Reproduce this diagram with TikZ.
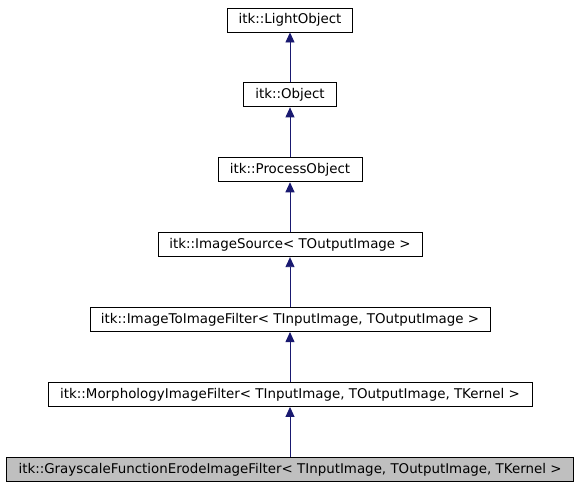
\documentclass[tikz,border=0pt]{standalone}
\usepackage{fontspec}
\setmainfont{DejaVu Sans}
\usetikzlibrary{arrows.meta, positioning}
\definecolor{edgeblue}{HTML}{191970}
\definecolor{leafgray}{HTML}{BFBFBF}

\begin{document}
\begin{tikzpicture}[x=1pt, y=-1pt, node distance=50pt,
  cls/.style={draw=black, line width=0.9pt, minimum height=24pt, inner sep=0pt,
    font=\fontsize{13.4}{15}\selectfont},
  inh/.style={draw=edgeblue, line width=0.9pt, -{Triangle[length=10pt, width=9pt]}}]
\useasboundingbox (0,0) rectangle (579,485);

\node[cls, minimum width=125pt] (lo) at (290,20) {itk::LightObject};
\node[cls, minimum width=93pt] (obj) [below=of lo] {itk::Object};
\node[cls, minimum width=144pt] (po) [below=of obj] {itk::ProcessObject};
\node[cls, minimum width=264pt] (is) [below=of po] {itk::ImageSource< TOutputImage >};
\node[cls, minimum width=400pt] (itif) [below=of is] {itk::ImageToImageFilter< TInputImage, TOutputImage >};
\node[cls, minimum width=484pt] (mif) [below=of itif] {itk::MorphologyImageFilter< TInputImage, TOutputImage, TKernel >};
\node[cls, minimum width=567pt, fill=leafgray] (gfe) [below=of mif] {itk::GrayscaleFunctionErodeImageFilter< TInputImage, TOutputImage, TKernel >};

\draw[inh] (obj) -- (lo);
\draw[inh] (po) -- (obj);
\draw[inh] (is) -- (po);
\draw[inh] (itif) -- (is);
\draw[inh] (mif) -- (itif);
\draw[inh] (gfe) -- (mif);
%
\end{tikzpicture}
\end{document}
